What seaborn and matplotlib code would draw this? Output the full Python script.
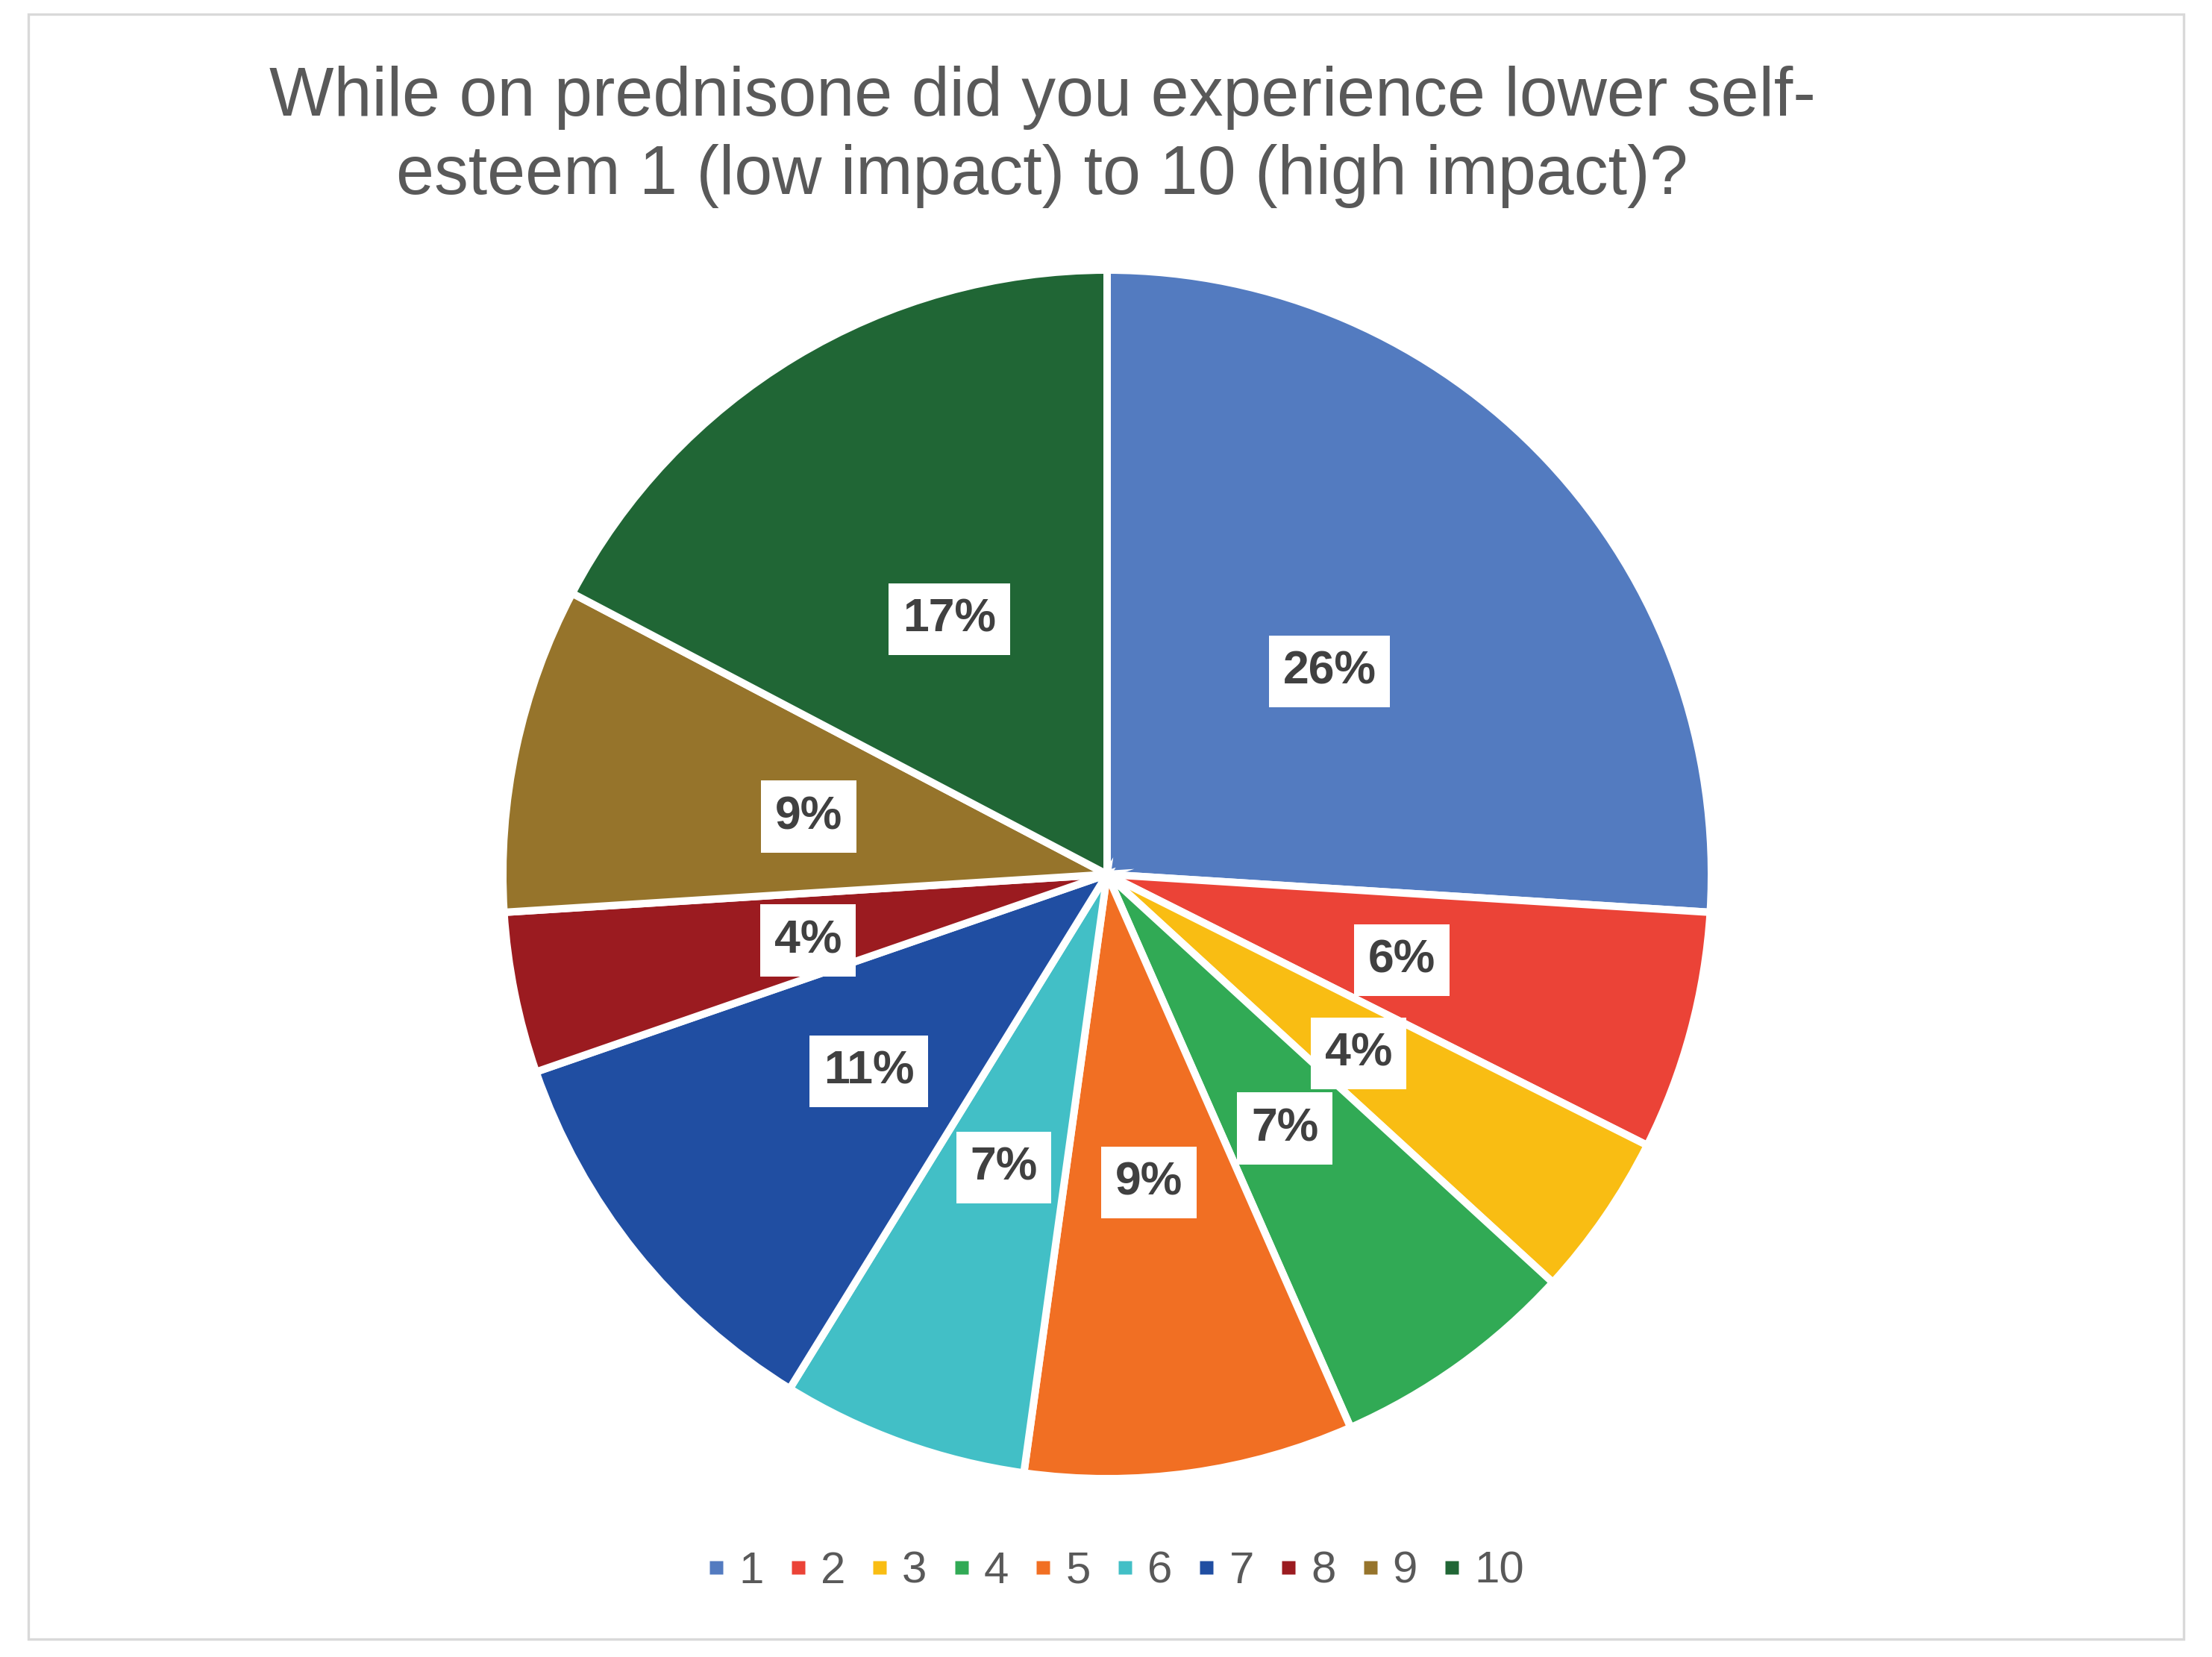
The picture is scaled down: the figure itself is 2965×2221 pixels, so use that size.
import matplotlib
matplotlib.use("Agg")
import matplotlib.pyplot as plt
from matplotlib.lines import Line2D
from matplotlib.patches import Rectangle
import seaborn as sns

# scores 1..10 and their share of answers (%)
SCORES = ["1", "2", "3", "4", "5", "6", "7", "8", "9", "10"]
SHARES = [26.0, 6.4, 4.4, 6.6, 8.8, 6.6, 10.9, 4.3, 8.7, 17.3]
COLORS = ["#537BC0", "#EB4337", "#F9BD13", "#31AA55", "#F16F23",
          "#42BFC6", "#204EA2", "#9B1B20", "#96742B", "#206635"]
TITLE_LINES = ["While on prednisone did you experience lower self-",
               "esteem 1 (low impact) to 10 (high impact)?"]

W, H, DPI = 2965, 2221, 200

sns.set_theme(style="white")
plt.rcParams["font.family"] = ["Liberation Sans", "DejaVu Sans"]
palette = sns.color_palette(COLORS)

fig = plt.figure(figsize=(W / DPI, H / DPI), dpi=DPI)
fig.patch.set_facecolor("white")

# chart area frame
fig.patches.append(Rectangle((38 / W, 1 - 2197 / H), (2927 - 38) / W, (2197 - 19) / H,
                             transform=fig.transFigure, fill=False,
                             edgecolor="#D9D9D9", linewidth=1.2))

# pie axes: center (1484, 1172) px, radius 810 px
cx, cy, r = 1484, 1172, 810
ax = fig.add_axes([(cx - r) / W, 1 - (cy + r) / H, 2 * r / W, 2 * r / H])
wedges, _, autotexts = ax.pie(
    SHARES, colors=palette, startangle=90, counterclock=False,
    autopct="%.0f%%", pctdistance=0.505,
    wedgeprops=dict(edgecolor="white", linewidth=3.6),
    textprops=dict(fontsize=22.5, fontweight="bold", color="#404040"),
)
for t in autotexts:
    x, y = t.get_position()
    t.set_position((x, y - 0.01))  # label boxes sit a touch low
    t.set_bbox(dict(boxstyle="square,pad=0.3", facecolor="white", edgecolor="none"))
ax.set_xlim(-1, 1)
ax.set_ylim(-1, 1)
ax.set_aspect("equal")
ax.axis("off")

# title, two lines
for line, base in zip(TITLE_LINES, [155, 260]):
    fig.text(1397 / W, 1 - base / H, line, ha="center", va="baseline",
             fontsize=33, color="#595959")

# legend
handles = [Line2D([], [], marker="s", linestyle="none", markersize=6.8,
                  markerfacecolor=c, markeredgecolor="none") for c in palette]
leg = fig.legend(handles, SCORES, loc="center", bbox_to_anchor=(1497 / W, 1 - 2106 / H),
                 ncol=10, frameon=False, fontsize=21.6, handlelength=0.3,
                 handletextpad=0.35, columnspacing=0.62, borderpad=0)
for t in leg.get_texts():
    t.set_color("#595959")

fig.savefig("out.png", dpi=DPI, facecolor="white")
